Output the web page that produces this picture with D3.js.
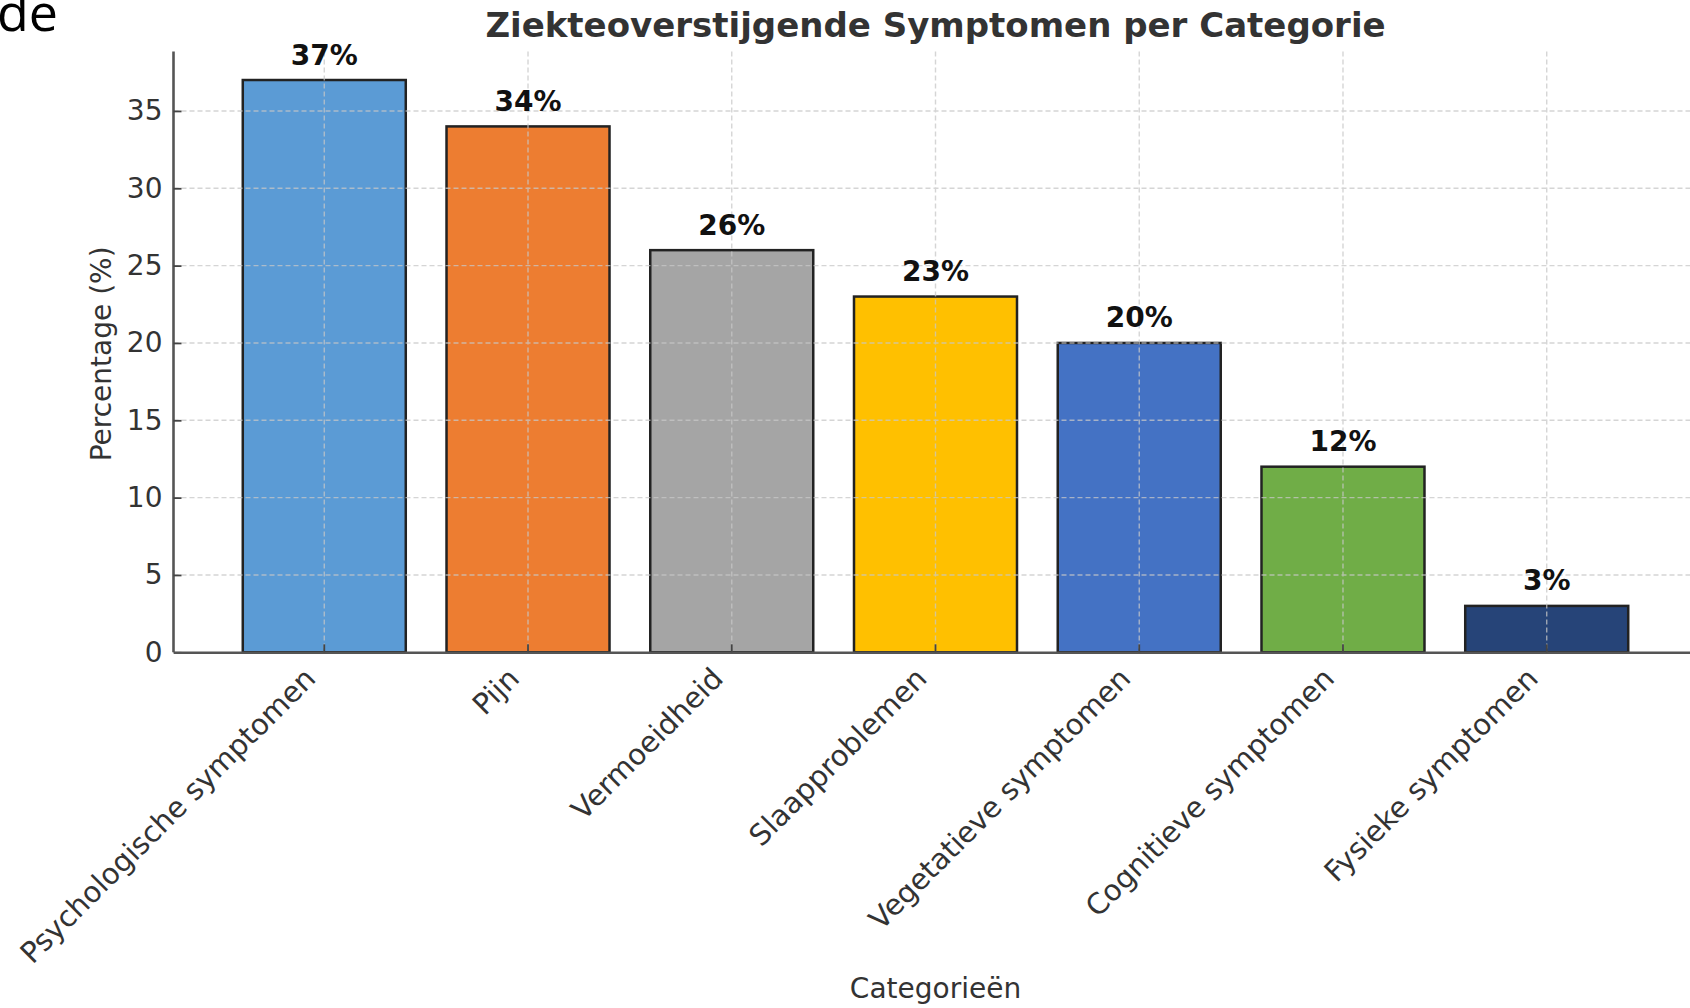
<!DOCTYPE html>
<html lang="nl">
<head>
  <meta charset="UTF-8" />
  <script src="https://d3js.org/d3.v7.min.js"></script>
  <title>Ziekteoverstijgende Symptomen per Categorie</title>
  <style>
    body { margin: 0; background: #fff; }
    svg { display: block; }
  </style>
</head>
<body>
<script type="text/javascript">
// data
var categories = ["Psychologische symptomen", "Pijn", "Vermoeidheid", "Slaapproblemen",
                  "Vegetatieve symptomen", "Cognitieve symptomen", "Fysieke symptomen"];
var values = [37, 34, 26, 23, 20, 12, 3];
var barColors = ["#5b9bd5", "#ed7d31", "#a5a5a5", "#ffc000", "#4472c4", "#70ad47", "#264478"];
var yTicks = [0, 5, 10, 15, 20, 25, 30, 35];
var titleText = "Ziekteoverstijgende Symptomen per Categorie";
var xLabel = "Categorieën";
var yLabel = "Percentage (%)";

var W = 1690, H = 1008;
// plot area (window.top is reserved, so no "top" here)
var pLeft = 173.5, pRight = 1697.5, pTop = 51.4, pBottom = 652.3;
var font = "'DejaVu Sans', sans-serif";

var svg = d3.select("body").append("svg").attr("width", W).attr("height", H);

var x = d3.scaleBand().domain(categories).range([pLeft, pRight])
    .paddingInner(0.2).paddingOuter(0.34);
var y = d3.scaleLinear().domain([0, 38.85]).range([pBottom, pTop]);

// stray text from the page the chart was cut from
svg.append("text").attr("x", -3).attr("y", 31)
  .style("font-family", "'Open Sans', sans-serif").style("font-size", "52px")
  .attr("fill", "#000").text("de");

// bars
svg.append("g").selectAll("rect").data(values).enter().append("rect")
  .attr("x", function(d, i){ return x(categories[i]); })
  .attr("y", function(d){ return y(d); })
  .attr("width", x.bandwidth())
  .attr("height", function(d){ return y(0) - y(d); })
  .attr("fill", function(d, i){ return barColors[i]; })
  .attr("stroke", "#222").attr("stroke-width", 2.5);

// grid (drawn over the bars, like the original)
var grid = svg.append("g").attr("stroke", "#c8c8c8").attr("stroke-width", 1.4)
  .attr("stroke-dasharray", "5,3").attr("opacity", 0.75);
grid.selectAll("line.h").data(yTicks.slice(1)).enter().append("line")
  .attr("x1", pLeft).attr("x2", pRight)
  .attr("y1", function(d){ return y(d); }).attr("y2", function(d){ return y(d); });
grid.selectAll("line.v").data(categories).enter().append("line")
  .attr("x1", function(d){ return x(d) + x.bandwidth()/2; })
  .attr("x2", function(d){ return x(d) + x.bandwidth()/2; })
  .attr("y1", pTop).attr("y2", pBottom);

// axes
var yAxis = svg.append("g").attr("transform", "translate(" + pLeft + ",0)")
  .call(d3.axisLeft(y).tickValues(yTicks).tickSize(-8).tickPadding(11));
var xAxis = svg.append("g").attr("transform", "translate(0," + pBottom + ")")
  .call(d3.axisBottom(x).tickSize(-8).tickSizeOuter(0));

[yAxis, xAxis].forEach(function(a){
  a.select(".domain").attr("stroke", "#555").attr("stroke-width", 2.6);
  a.selectAll(".tick line").attr("stroke", "#444").attr("stroke-width", 1.8);
  a.selectAll("text").style("font-family", font).style("font-size", "28px").attr("fill", "#333");
});
yAxis.select(".domain").attr("d", "M0," + pBottom + "V" + pTop);

xAxis.selectAll(".tick text")
  .style("font-size", "29px")
  .attr("y", 0).attr("dy", 0).attr("text-anchor", "end")
  .attr("transform", "translate(-7,28) rotate(-45)");

// value labels
svg.append("g").selectAll("text").data(values).enter().append("text")
  .attr("x", function(d, i){ return x(categories[i]) + x.bandwidth()/2; })
  .attr("y", function(d){ return y(d + 1); })
  .attr("text-anchor", "middle")
  .style("font-family", font).style("font-size", "28px").style("font-weight", "bold")
  .attr("fill", "#111")
  .text(function(d){ return d + "%"; });

// title and axis labels
svg.append("text").attr("x", (pLeft + pRight)/2).attr("y", 37)
  .attr("text-anchor", "middle")
  .style("font-family", font).style("font-size", "34px").style("font-weight", "bold")
  .attr("fill", "#333").text(titleText);

svg.append("text").attr("x", (pLeft + pRight)/2).attr("y", 998)
  .attr("text-anchor", "middle")
  .style("font-family", font).style("font-size", "28px")
  .attr("fill", "#333").text(xLabel);

svg.append("text").attr("transform", "translate(111," + ((pTop + pBottom)/2 + 2) + ") rotate(-90)")
  .attr("text-anchor", "middle")
  .style("font-family", font).style("font-size", "28px")
  .attr("fill", "#333").text(yLabel);
</script>
</body>
</html>
